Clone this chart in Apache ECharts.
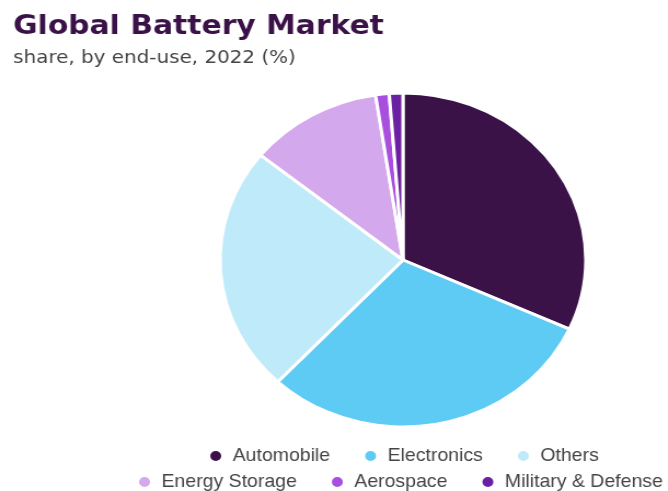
<!DOCTYPE html>
<html>
<head>
<meta charset="utf-8">
<script src="https://cdn.jsdelivr.net/npm/echarts@6/dist/echarts.min.js"></script>
<style>
  html, body { margin: 0; padding: 0; background: #ffffff; overflow: hidden; }
  #wrap { width: 668px; height: 491px; overflow: hidden; }
  /* chart is laid out narrower and widened to the page width */
  #chart { width: 610px; height: 491px; transform-origin: 0 0; transform: scaleX(1.095); }
</style>
</head>
<body>
<div id="wrap"><div id="chart"></div></div>
<script>
// Global battery market share by end-use, 2022 (%)
const categories = ['Automobile', 'Electronics', 'Others', 'Energy Storage', 'Aerospace', 'Military & Defense'];
const shares = [31.8, 30.2, 23.8, 11.8, 1.2, 1.2];
const colors = ['#3a1248', '#5ecbf5', '#bfeaf9', '#d4a8ec', '#a84fdf', '#6b1fa3'];
const legendRow1 = categories.slice(0, 3);
const legendRow2 = categories.slice(3);

const chart = echarts.init(document.getElementById('chart'), null, { renderer: 'canvas' });

const legendBase = {
  orient: 'horizontal',
  icon: 'circle',
  itemWidth: 21,
  itemHeight: 12,
  itemGap: 30,
  width: 800,
  textStyle: { color: '#444444', fontSize: 17.8, fontFamily: 'Liberation Sans, Arial, sans-serif' }
};

chart.setOption({
  animation: false,
  color: colors,
  title: [
    {
      text: 'Global Battery Market',
      left: 7, top: 8,
      textStyle: { color: '#3a1248', fontSize: 27.2, fontWeight: 'bold', fontFamily: 'DejaVu Sans, sans-serif' }
    },
    {
      text: 'share, by end-use, 2022 (%)',
      left: 7, top: 44,
      textStyle: { color: '#444444', fontSize: 18.2, fontWeight: 'normal', fontFamily: 'DejaVu Sans, sans-serif' }
    }
  ],
  legend: [
    Object.assign({}, legendBase, { data: legendRow1, left: 185, top: 442 }),
    Object.assign({}, legendBase, { data: legendRow2, left: 120, top: 468 })
  ],
  series: [{
    type: 'pie',
    center: [368, 260],
    radius: [0, 167],
    startAngle: 90,
    clockwise: true,
    label: { show: false },
    labelLine: { show: false },
    emphasis: { disabled: true },
    itemStyle: { borderColor: '#ffffff', borderWidth: 3 },
    data: categories.map((name, i) => ({ name: name, value: shares[i] }))
  }]
});
</script>
</body>
</html>
